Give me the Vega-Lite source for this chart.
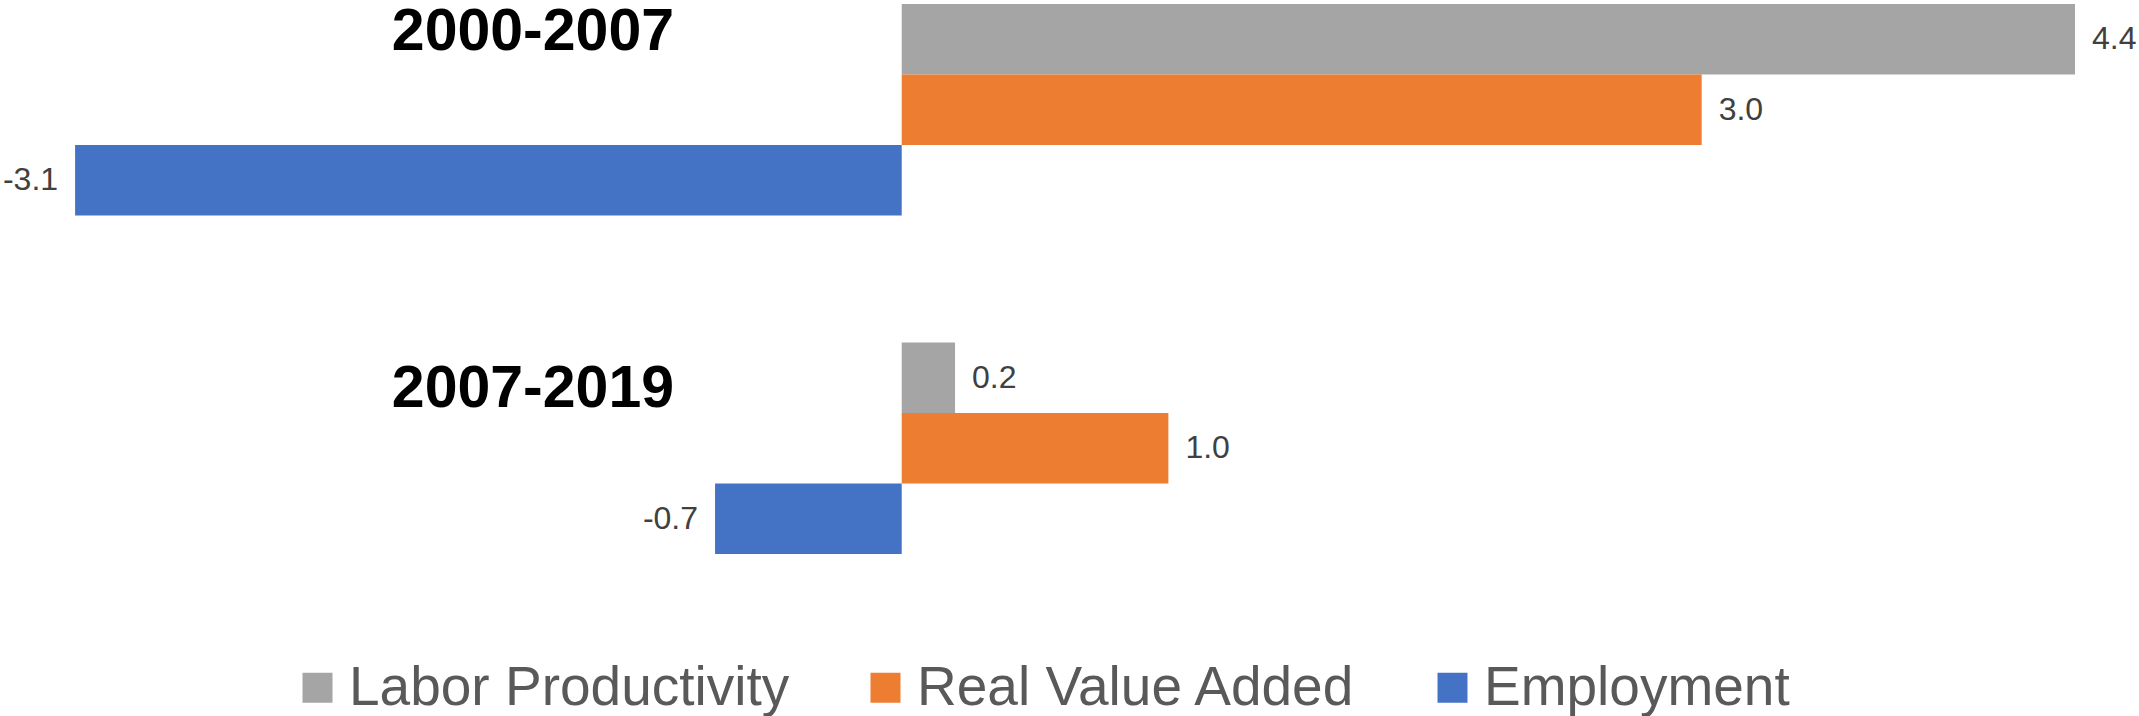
{
  "$schema": "https://vega.github.io/schema/vega-lite/v6.json",
  "width": 2139,
  "height": 550,
  "autosize": {"type": "none"},
  "padding": {"left": 0, "top": 4, "right": 0, "bottom": 162},
  "config": {
    "view": {"stroke": null},
    "font": "Liberation Sans",
    "locale": {
      "number": {"decimal": ".", "thousands": ",", "grouping": [3], "currency": ["$", ""], "minus": "-"}
    }
  },
  "data": {
    "values": [
      {"period": "2000-2007", "series": "Labor Productivity", "value": 4.4},
      {"period": "2000-2007", "series": "Real Value Added", "value": 3.0},
      {"period": "2000-2007", "series": "Employment", "value": -3.1},
      {"period": "2007-2019", "series": "Labor Productivity", "value": 0.2},
      {"period": "2007-2019", "series": "Real Value Added", "value": 1.0},
      {"period": "2007-2019", "series": "Employment", "value": -0.7}
    ]
  },
  "encoding": {
    "y": {
      "field": "period",
      "type": "nominal",
      "axis": null,
      "scale": {"domain": ["2000-2007", "2007-2019"], "paddingInner": 0.375, "paddingOuter": 0}
    },
    "x": {
      "field": "value",
      "type": "quantitative",
      "axis": null,
      "scale": {"domain": [-3.3816, 4.64], "nice": false}
    }
  },
  "layer": [
    {
      "mark": {"type": "bar"},
      "encoding": {
        "yOffset": {
          "field": "series",
          "type": "nominal",
          "sort": ["Labor Productivity", "Real Value Added", "Employment"],
          "scale": {"paddingInner": 0, "paddingOuter": 0}
        },
        "color": {
          "field": "series",
          "type": "nominal",
          "sort": ["Labor Productivity", "Real Value Added", "Employment"],
          "scale": {
            "domain": ["Labor Productivity", "Real Value Added", "Employment"],
            "range": ["#A5A5A5", "#ED7D31", "#4472C4"]
          },
          "legend": {
            "title": null,
            "orient": "none",
            "direction": "horizontal",
            "legendX": 290,
            "legendY": 656,
            "padding": 0,
            "symbolType": "square",
            "symbolSize": 900,
            "symbolStrokeWidth": 0,
            "symbolOpacity": 1,
            "labelFont": "Liberation Sans",
            "labelFontSize": 55,
            "labelColor": "#595959",
            "labelOffset": 4,
            "labelLimit": 1000,
            "columnPadding": 68
          }
        }
      }
    },
    {
      "transform": [{"filter": "datum.value >= 0"}],
      "mark": {"type": "text", "align": "left", "baseline": "middle", "dx": 17, "fontSize": 32, "color": "#404040"},
      "encoding": {
        "yOffset": {"field": "series", "type": "nominal", "sort": ["Labor Productivity", "Real Value Added", "Employment"]},
        "text": {"field": "value", "type": "quantitative", "format": ".1f"}
      }
    },
    {
      "transform": [{"filter": "datum.value < 0"}],
      "mark": {"type": "text", "align": "right", "baseline": "middle", "dx": -17, "fontSize": 32, "color": "#404040"},
      "encoding": {
        "yOffset": {"field": "series", "type": "nominal", "sort": ["Labor Productivity", "Real Value Added", "Employment"]},
        "text": {"field": "value", "type": "quantitative", "format": ".1f"}
      }
    },
    {
      "transform": [{"filter": "datum.series == 'Labor Productivity' && datum.period == '2000-2007'"}],
      "mark": {"type": "text", "align": "center", "baseline": "middle", "dy": -78, "fontSize": 59, "fontWeight": "bold", "color": "#000000"},
      "encoding": {
        "x": {"datum": -1.383},
        "text": {"field": "period", "type": "nominal"}
      }
    },
    {
      "transform": [{"filter": "datum.series == 'Labor Productivity' && datum.period == '2007-2019'"}],
      "mark": {"type": "text", "align": "center", "baseline": "middle", "dy": -59, "fontSize": 59, "fontWeight": "bold", "color": "#000000"},
      "encoding": {
        "x": {"datum": -1.383},
        "text": {"field": "period", "type": "nominal"}
      }
    }
  ]
}
